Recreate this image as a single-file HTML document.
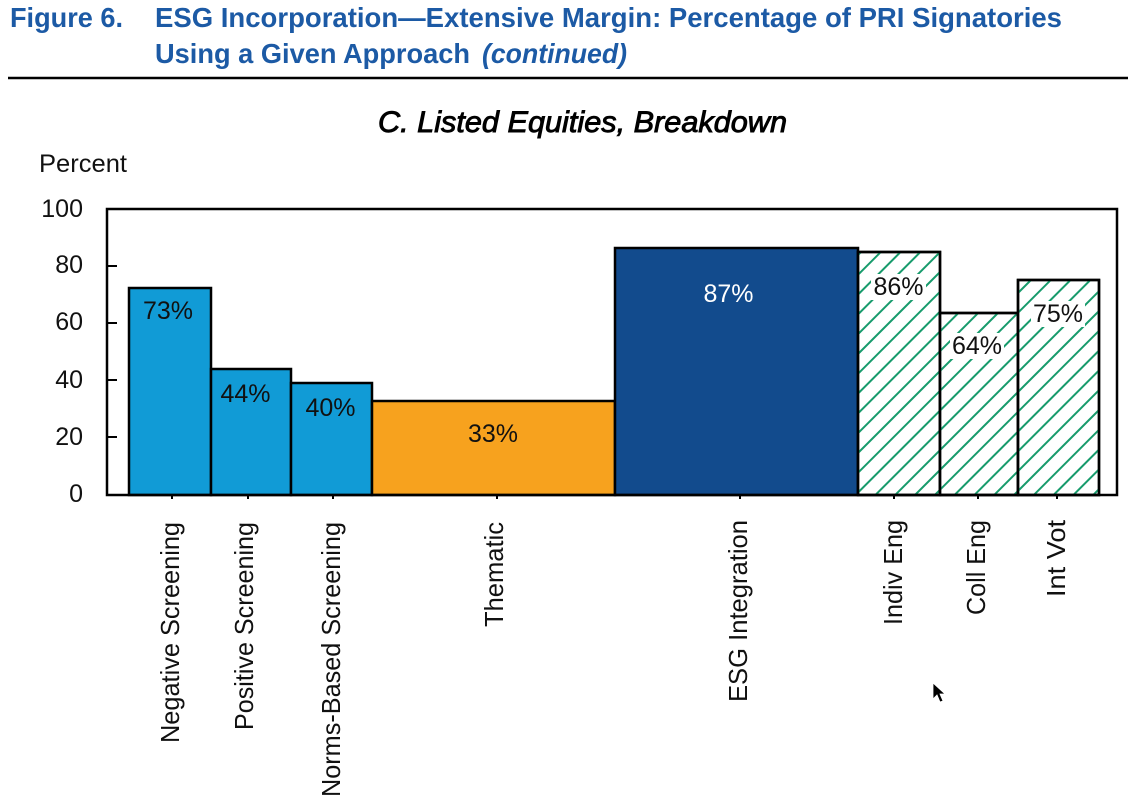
<!DOCTYPE html>
<html><head><meta charset="utf-8"><style>
html,body{margin:0;padding:0;background:#fff;}
svg{display:block;}
text{font-family:"Liberation Sans",sans-serif;}
</style></head><body>
<svg width="1128" height="806" viewBox="0 0 1128 806" xmlns="http://www.w3.org/2000/svg">
<defs>
<pattern id="hatch" patternUnits="userSpaceOnUse" width="14" height="14" patternTransform="rotate(45)">
<line x1="3" y1="0" x2="3" y2="14" stroke="#179b6c" stroke-width="2"/>
</pattern>
</defs>
<rect x="0" y="0" width="1128" height="806" fill="#fff"/>
<!-- Title -->
<g fill="#1c5aa5" font-weight="bold" font-size="28">
<text x="10" y="27" textLength="113" lengthAdjust="spacingAndGlyphs">Figure 6.</text>
<text x="155" y="27" textLength="907" lengthAdjust="spacingAndGlyphs">ESG Incorporation—Extensive Margin: Percentage of PRI Signatories</text>
<text x="155" y="63" textLength="315" lengthAdjust="spacingAndGlyphs">Using a Given Approach</text>
<text x="482" y="63" textLength="145" lengthAdjust="spacingAndGlyphs" font-style="italic">(continued)</text>
</g>
<line x1="8" y1="78" x2="1128" y2="78" stroke="#000" stroke-width="2.5"/>
<!-- Subtitle -->
<text x="378" y="132" font-size="30" font-style="italic" textLength="409" lengthAdjust="spacingAndGlyphs" fill="#000" stroke="#000" stroke-width="0.9">C. Listed Equities, Breakdown</text>
<text x="39" y="172" font-size="25" textLength="88" lengthAdjust="spacingAndGlyphs" fill="#111">Percent</text>
<!-- Y tick labels -->
<g font-size="25" fill="#111" text-anchor="end">
<text x="83" y="217">100</text>
<text x="83" y="273">80</text>
<text x="83" y="330">60</text>
<text x="83" y="388">40</text>
<text x="83" y="445">20</text>
<text x="83" y="502">0</text>
</g>
<!-- Bars -->
<g stroke="#000" stroke-width="2.5">
<rect x="129" y="288" width="82" height="207" fill="#119bd6"/>
<rect x="211" y="369" width="80" height="126" fill="#119bd6"/>
<rect x="291" y="383" width="81" height="112" fill="#119bd6"/>
<rect x="372" y="401" width="243" height="94" fill="#f7a21e"/>
<rect x="615" y="248" width="243" height="247" fill="#124b8d"/>
<rect x="858" y="252" width="82" height="243" fill="#fff"/>
<rect x="858" y="252" width="82" height="243" fill="url(#hatch)"/>
<rect x="940" y="313" width="78" height="182" fill="#fff"/>
<rect x="940" y="313" width="78" height="182" fill="url(#hatch)"/>
<rect x="1018" y="280" width="81" height="215" fill="#fff"/>
<rect x="1018" y="280" width="81" height="215" fill="url(#hatch)"/>
</g>
<!-- white label backgrounds on hatched bars -->
<g fill="#fff">
<rect x="871" y="274" width="55" height="26"/>
<rect x="950" y="333" width="54" height="26"/>
<rect x="1031" y="301" width="54" height="26"/>
</g>
<!-- Value labels -->
<g font-size="25" fill="#111" text-anchor="middle">
<text x="168" y="319">73%</text>
<text x="245.5" y="402">44%</text>
<text x="330.5" y="416">40%</text>
<text x="493" y="442">33%</text>
<text x="728.5" y="302" fill="#fff">87%</text>
<text x="898.5" y="295">86%</text>
<text x="977" y="354">64%</text>
<text x="1058" y="322">75%</text>
</g>
<!-- Frame -->
<rect x="107" y="209" width="1010" height="286" fill="none" stroke="#000" stroke-width="2.5"/>
<g stroke="#000" stroke-width="2">
<line x1="107" y1="266" x2="117" y2="266"/>
<line x1="107" y1="323" x2="117" y2="323"/>
<line x1="107" y1="380" x2="117" y2="380"/>
<line x1="107" y1="437" x2="117" y2="437"/>
<line x1="172" y1="495" x2="172" y2="499"/>
<line x1="248" y1="495" x2="248" y2="499"/>
<line x1="333" y1="495" x2="333" y2="499"/>
<line x1="497" y1="495" x2="497" y2="499"/>
<line x1="740" y1="495" x2="740" y2="499"/>
<line x1="894" y1="495" x2="894" y2="499"/>
<line x1="978" y1="495" x2="978" y2="499"/>
<line x1="1057" y1="495" x2="1057" y2="499"/>
</g>
<!-- Category labels (rotated) -->
<g font-size="26" fill="#111">
<text transform="translate(179,743) rotate(-90)" textLength="221" lengthAdjust="spacingAndGlyphs">Negative Screening</text>
<text transform="translate(253,730) rotate(-90)" textLength="208" lengthAdjust="spacingAndGlyphs">Positive Screening</text>
<text transform="translate(340,797) rotate(-90)" textLength="275" lengthAdjust="spacingAndGlyphs">Norms-Based Screening</text>
<text transform="translate(503,627) rotate(-90)" textLength="105" lengthAdjust="spacingAndGlyphs">Thematic</text>
<text transform="translate(747,702) rotate(-90)" textLength="182" lengthAdjust="spacingAndGlyphs">ESG Integration</text>
<text transform="translate(902,625) rotate(-90)" textLength="105" lengthAdjust="spacingAndGlyphs">Indiv Eng</text>
<text transform="translate(985,615) rotate(-90)" textLength="95" lengthAdjust="spacingAndGlyphs">Coll Eng</text>
<text transform="translate(1065,597) rotate(-90)" textLength="77" lengthAdjust="spacingAndGlyphs">Int Vot</text>
</g>
<!-- Cursor -->
<polygon points="933,683 933,699 937,695 940,702 943,701 940,694 945,694" fill="#000" stroke="#fff" stroke-width="0.8"/>
</svg>
</body></html>
